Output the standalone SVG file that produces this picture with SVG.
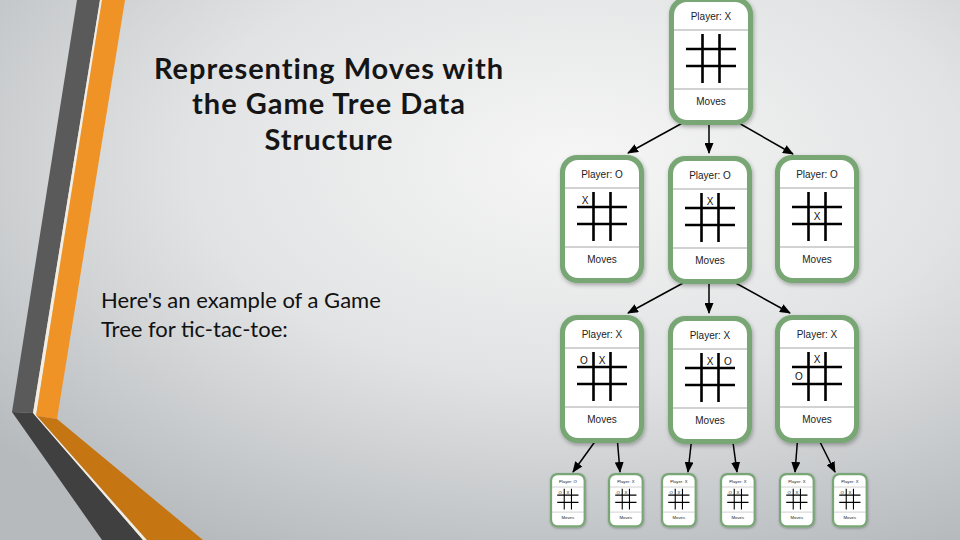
<svg xmlns="http://www.w3.org/2000/svg" xmlns:xlink="http://www.w3.org/1999/xlink" width="960" height="540" viewBox="0 0 960 540">
<defs>
<radialGradient id="bg" cx="0.6" cy="0.3" r="0.8">
<stop offset="0" stop-color="#f6f6f6"/>
<stop offset="0.5" stop-color="#e2e3e4"/>
<stop offset="1" stop-color="#b6babd"/>
</radialGradient>
<filter id="sh" x="-20%" y="-20%" width="140%" height="140%">
<feDropShadow dx="1" dy="2" stdDeviation="2" flood-color="#000" flood-opacity="0.3"/>
</filter>
<marker id="arr" markerUnits="userSpaceOnUse" markerWidth="11" markerHeight="9" refX="10" refY="4.5" orient="auto">
<path d="M0,0 L11,4.5 L0,9 z" fill="#000"/>
</marker>
<marker id="dot" markerUnits="userSpaceOnUse" markerWidth="8" markerHeight="8" refX="4" refY="4">
<circle cx="4" cy="4" r="3.3" fill="#000"/>
</marker>
<g id="node">
<rect x="0" y="0" width="84" height="128" rx="17" fill="#78a775"/>
<rect x="5" y="5" width="74" height="118" rx="13" fill="#ffffff"/>
<path d="M5,33H79M5,92H79" stroke="#a5a5a5" stroke-width="1.2" fill="none"/>
<path d="M33.5,37V86M50.5,37V86M17,52H67M17,69H67" stroke="#000" stroke-width="2.6" fill="none"/>
</g>
</defs>
<style>
.title{font-family:Lato,"Liberation Sans",sans-serif;font-weight:bold;font-size:29px;letter-spacing:1px;fill:#151515;text-anchor:middle}
.body{font-family:Lato,"Liberation Sans",sans-serif;font-size:22px;fill:#111}
.hd{font-family:"Liberation Sans",Arial,sans-serif;font-size:10px;fill:#222;text-anchor:middle}
.mk{font-family:"Liberation Sans",Arial,sans-serif;font-size:10px;fill:#111;text-anchor:middle}
.conn line{stroke:#000;stroke-width:1.5;marker-end:url(#arr);marker-start:url(#dot)}
</style>
<rect width="960" height="540" fill="url(#bg)"/>
<g id="decoration">
<polygon points="77,0 100,0 33,413 12,412" fill="#5a5a5a"/>
<polygon points="100,0 102,0 36,416 33,413" fill="#f4ede2"/>
<polygon points="102,0 125,0 57,419 36,416" fill="#ef9327"/>
<polygon points="12,412 33,413 143,540 102,540" fill="#404040"/>
<polygon points="33,413 37,416 147,540 143,540" fill="#f4ede2"/>
<polygon points="37,416 57,419 203,540 147,540" fill="#c57512"/>
</g>
<g id="title">
<text class="title" x="329" y="79">Representing Moves with</text>
<text class="title" x="329" y="114">the Game Tree Data</text>
<text class="title" x="329" y="150">Structure</text>
</g>
<g id="body-text">
<text class="body" x="101" y="308">Here's an example of a Game</text>
<text class="body" x="101" y="337">Tree for tic-tac-toe:</text>
</g>
<g id="connectors" class="conn">
<line x1="697" y1="115" x2="628" y2="153"/>
<line x1="709" y1="116" x2="709" y2="153"/>
<line x1="723" y1="114" x2="793" y2="154"/>
<line x1="696" y1="276" x2="628" y2="313"/>
<line x1="709" y1="277" x2="709" y2="313"/>
<line x1="723" y1="276" x2="790" y2="313"/>
<line x1="599" y1="436" x2="573" y2="472"/>
<line x1="617" y1="436" x2="620" y2="472"/>
<line x1="692" y1="436" x2="688" y2="472"/>
<line x1="732" y1="435" x2="737" y2="472"/>
<line x1="798" y1="434" x2="795" y2="472"/>
<line x1="816" y1="434" x2="835" y2="472"/>
</g>
<g id="root" transform="translate(669,-3)">
<use xlink:href="#node" filter="url(#sh)"/>
<text class="hd" x="42" y="23">Player: X</text>
<text class="hd" x="42" y="108">Moves</text>
</g>
<g id="n-a" transform="translate(560,155)">
<use xlink:href="#node" filter="url(#sh)"/>
<text class="hd" x="42" y="23">Player: O</text>
<text class="mk" x="25" y="49">X</text>
<text class="hd" x="42" y="108">Moves</text>
</g>
<g id="n-b" transform="translate(668,156)">
<use xlink:href="#node" filter="url(#sh)"/>
<text class="hd" x="42" y="23">Player: O</text>
<text class="mk" x="42" y="49">X</text>
<text class="hd" x="42" y="108">Moves</text>
</g>
<g id="n-c" transform="translate(775,155)">
<use xlink:href="#node" filter="url(#sh)"/>
<text class="hd" x="42" y="23">Player: O</text>
<text class="mk" x="42" y="65">X</text>
<text class="hd" x="42" y="108">Moves</text>
</g>
<g id="n-d" transform="translate(560,315)">
<use xlink:href="#node" filter="url(#sh)"/>
<text class="hd" x="42" y="23">Player: X</text>
<text class="mk" x="24" y="49">O</text>
<text class="mk" x="42" y="49">X</text>
<text class="hd" x="42" y="108">Moves</text>
</g>
<g id="n-e" transform="translate(668,316)">
<use xlink:href="#node" filter="url(#sh)"/>
<text class="hd" x="42" y="23">Player: X</text>
<text class="mk" x="42" y="49">X</text>
<text class="mk" x="60" y="49">O</text>
<text class="hd" x="42" y="108">Moves</text>
</g>
<g id="n-f" transform="translate(775,315)">
<use xlink:href="#node" filter="url(#sh)"/>
<text class="hd" x="42" y="23">Player: X</text>
<text class="mk" x="42" y="48">X</text>
<text class="mk" x="24" y="65">O</text>
<text class="hd" x="42" y="108">Moves</text>
</g>
<g id="leaf-1" transform="translate(550,473) scale(0.425)">
<use xlink:href="#node" filter="url(#sh)"/>
<text class="hd" x="42" y="23">Player: O</text>
<text class="mk" x="24" y="49">O</text>
<text class="mk" x="42" y="49">X</text>
<text class="hd" x="42" y="108">Moves</text>
</g>
<g id="leaf-2" transform="translate(608,473) scale(0.425)">
<use xlink:href="#node" filter="url(#sh)"/>
<text class="hd" x="42" y="23">Player: X</text>
<text class="mk" x="24" y="49">O</text>
<text class="mk" x="42" y="49">X</text>
<text class="hd" x="42" y="108">Moves</text>
</g>
<g id="leaf-3" transform="translate(661,473) scale(0.425)">
<use xlink:href="#node" filter="url(#sh)"/>
<text class="hd" x="42" y="23">Player: X</text>
<text class="mk" x="24" y="49">O</text>
<text class="mk" x="42" y="49">X</text>
<text class="hd" x="42" y="108">Moves</text>
</g>
<g id="leaf-4" transform="translate(720,473) scale(0.425)">
<use xlink:href="#node" filter="url(#sh)"/>
<text class="hd" x="42" y="23">Player: X</text>
<text class="mk" x="24" y="49">O</text>
<text class="mk" x="42" y="49">X</text>
<text class="hd" x="42" y="108">Moves</text>
</g>
<g id="leaf-5" transform="translate(779,473) scale(0.425)">
<use xlink:href="#node" filter="url(#sh)"/>
<text class="hd" x="42" y="23">Player: X</text>
<text class="mk" x="24" y="49">O</text>
<text class="mk" x="42" y="49">X</text>
<text class="hd" x="42" y="108">Moves</text>
</g>
<g id="leaf-6" transform="translate(832,473) scale(0.425)">
<use xlink:href="#node" filter="url(#sh)"/>
<text class="hd" x="42" y="23">Player: X</text>
<text class="mk" x="24" y="49">O</text>
<text class="mk" x="42" y="49">X</text>
<text class="hd" x="42" y="108">Moves</text>
</g>
</svg>
